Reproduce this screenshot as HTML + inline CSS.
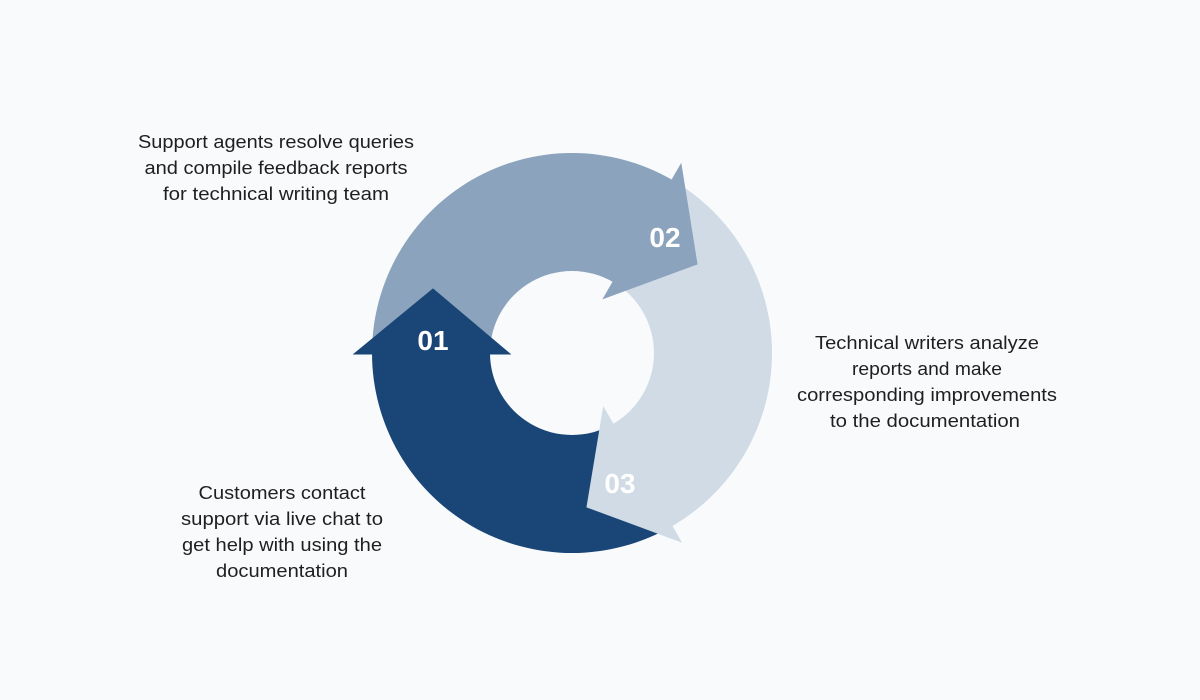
<!DOCTYPE html>
<html><head><meta charset="utf-8"><style>
html,body{margin:0;padding:0;background:#f8fafc;}
svg{display:block}
.t{font-family:"Liberation Sans",sans-serif;font-size:18px;fill:#1f1f1f;text-anchor:middle}
.n{font-family:"Liberation Sans",sans-serif;font-size:28px;font-weight:bold;fill:#fff;text-anchor:middle}
</style></head><body>
<svg width="1200" height="700" viewBox="0 0 1200 700">
<rect width="1200" height="700" fill="#f8fafc"/>
<path d="M672,526.2 A200,200 0 0 1 372,353 L490,353 A82,82 0 0 0 613,424 Z" fill="#194677"/>
<path d="M372,353 A200,200 0 0 1 672,179.8 L613,282 A82,82 0 0 0 490,353 Z" fill="#8ba3bc"/>
<path d="M672,179.8 A200,200 0 0 1 672,526.2 L613,424 A82,82 0 0 0 613,282 Z" fill="#d0dbe6"/>
<polygon points="510,354 354,354 433,289" fill="#194677" stroke="#194677" stroke-width="1"/>
<polygon points="603.5,298.4 681,164.2 697,264" fill="#8ba3bc" stroke="#8ba3bc" stroke-width="1"/>
<polygon points="603.5,407.6 681,541.8 587,507" fill="#d0dbe6" stroke="#d0dbe6" stroke-width="1"/>
<text class="n" x="433" y="350">01</text>
<text class="n" x="665" y="247">02</text>
<text class="n" x="620" y="493">03</text>
<g>
<text class="t" x="276" y="148" textLength="276" lengthAdjust="spacingAndGlyphs">Support agents resolve queries</text>
<text class="t" x="276" y="174" textLength="263" lengthAdjust="spacingAndGlyphs">and compile feedback reports</text>
<text class="t" x="276" y="200" textLength="226" lengthAdjust="spacingAndGlyphs">for technical writing team</text>
<text class="t" x="927" y="349" textLength="224" lengthAdjust="spacingAndGlyphs">Technical writers analyze</text>
<text class="t" x="927" y="375" textLength="150" lengthAdjust="spacingAndGlyphs">reports and make</text>
<text class="t" x="927" y="401" textLength="260" lengthAdjust="spacingAndGlyphs">corresponding improvements</text>
<text class="t" x="925" y="427" textLength="190" lengthAdjust="spacingAndGlyphs">to the documentation</text>
<text class="t" x="282" y="499" textLength="167" lengthAdjust="spacingAndGlyphs">Customers contact</text>
<text class="t" x="282" y="525" textLength="202" lengthAdjust="spacingAndGlyphs">support via live chat to</text>
<text class="t" x="282" y="551" textLength="200" lengthAdjust="spacingAndGlyphs">get help with using the</text>
<text class="t" x="282" y="577" textLength="132" lengthAdjust="spacingAndGlyphs">documentation</text>
</g>
</svg>
</body></html>
